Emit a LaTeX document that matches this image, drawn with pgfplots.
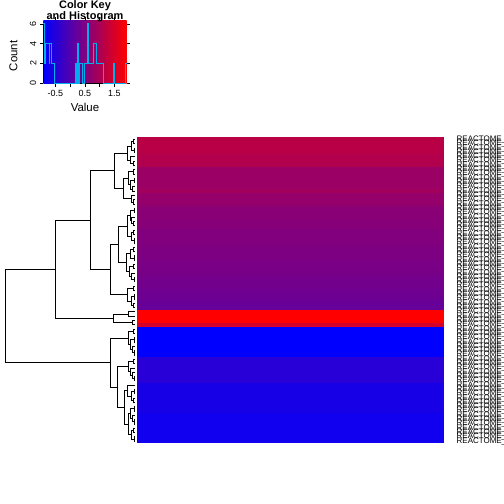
\documentclass[border=0pt]{standalone}
\usepackage{pgfplots}
\pgfplotsset{compat=1.18}
\usepackage{fontspec}
\setmainfont{Liberation Sans}
\begin{document}
\begin{tikzpicture}
\useasboundingbox (0,0) rectangle (504bp,504bp);
% ---------------- colour key with histogram
\begin{axis}[
  at={(43.3bp,420.7bp)}, anchor=south west, scale only axis,
  width=83.4bp, height=62.6bp,
  xmin=-0.91, xmax=1.92, ymin=0, ymax=6.3158,
  axis line style={draw=none},
  xtick={-0.5,0,0.5,1,1.5}, xticklabels={-0.5,,0.5,,1.5},
  ytick={0,2,4,6}, yticklabels={0,2,4,6},
  tick align=outside, major tick length=3.5bp,
  tick style={black, line width=0.6bp},
  xticklabel style={font=\fontsize{9}{9}\selectfont},
  yticklabel style={font=\fontsize{9}{9}\selectfont, rotate=90, anchor=south},
  xlabel={Value}, ylabel={Count},
  xlabel style={font=\fontsize{11.5}{11.5}\selectfont, at={(axis description cs:0.5,-0.379)}, anchor=center},
  ylabel style={font=\fontsize{11.5}{11.5}\selectfont, at={(axis description cs:-0.357,0.44)}, anchor=center, rotate=0},
  clip=false,
]
\shade[left color=blue, right color=red] (rel axis cs:0,0) rectangle (rel axis cs:1,1);
\draw[black, line width=0.6bp] (axis cs:-0.5,0) -- (axis cs:1.5,0);
\draw[black, line width=0.6bp] (axis cs:-0.91,0) -- (axis cs:-0.91,6);
\addplot[cyan, const plot, line width=0.75bp] coordinates {
(-0.91,6) (-0.87,2) (-0.84,4) (-0.72,2) (-0.69,4) (-0.65,2) (-0.55,0)
(0.17,2) (0.21,0) (0.25,4) (0.29,0) (0.33,2) (0.40,0) (0.50,2) (0.58,6)
(0.62,2) (0.79,4) (0.90,2) (1.01,2) (1.13,0) (1.46,2) (1.50,0) (1.86,2) (1.92,2)};
\end{axis}
\node[anchor=base, font=\bfseries\fontsize{11}{11}\selectfont, inner sep=0pt] at (85bp,495bp) {Color Key};
\node[anchor=base, font=\bfseries\fontsize{11}{11}\selectfont, inner sep=0pt] at (85bp,484.7bp) {and Histogram};
% ---------------- row dendrogram
\begin{axis}[
  at={(0bp,60.7bp)}, anchor=south west, scale only axis,
  width=137bp, height=306bp,
  xmin=0, xmax=137, ymin=-0.5, ymax=70.5, y dir=reverse,
  hide axis, clip=false,
]
\addplot[black, line width=0.75bp, unbounded coords=jump] table {
x y
135 0
133 0
133 1
135 1
nan nan
135 2
134 2
134 3
135 3
nan nan
133 0.5
131 0.5
131 2.5
134 2.5
nan nan
135 5
133 5
133 6
135 6
nan nan
135 4
130 4
130 5.5
133 5.5
nan nan
131 1.5
127 1.5
127 4.75
130 4.75
nan nan
135 7
133 7
133 8
135 8
nan nan
135 9
134 9
134 10
135 10
nan nan
135 11
132 11
132 12
135 12
nan nan
134 9.5
130 9.5
130 11.5
132 11.5
nan nan
133 7.5
128 7.5
128 10.5
130 10.5
nan nan
135 14
133 14
133 15
135 15
nan nan
135 13
131 13
131 14.5
133 14.5
nan nan
128 9
123 9
123 13.75
131 13.75
nan nan
127 3.125
114 3.125
114 11.375
123 11.375
nan nan
135 16
134 16
134 17
135 17
nan nan
135 19
133 19
133 20
135 20
nan nan
135 18
131 18
131 19.5
133 19.5
nan nan
134 16.5
130 16.5
130 18.75
131 18.75
nan nan
135 21
133 21
133 22
135 22
nan nan
135 23
134 23
134 24
135 24
nan nan
133 21.5
131 21.5
131 23.5
134 23.5
nan nan
130 17.625
127 17.625
127 22.5
131 22.5
nan nan
135 25
133 25
133 26
135 26
nan nan
135 27
134 27
134 28
135 28
nan nan
133 25.5
130 25.5
130 27.5
134 27.5
nan nan
135 29
133 29
133 30
135 30
nan nan
135 32
134 32
134 33
135 33
nan nan
135 31
131 31
131 32.5
134 32.5
nan nan
133 29.5
129 29.5
129 31.75
131 31.75
nan nan
130 26.5
126 26.5
126 30.625
129 30.625
nan nan
127 20.0625
118 20.0625
118 28.5625
126 28.5625
nan nan
135 34
133 34
133 35
135 35
nan nan
135 36
134 36
134 37
135 37
nan nan
135 38
133 38
133 39
135 39
nan nan
134 36.5
131 36.5
131 38.5
133 38.5
nan nan
133 34.5
127 34.5
127 37.5
131 37.5
nan nan
118 24.3125
110 24.3125
110 36
127 36
nan nan
114 7.25
90 7.25
90 30.156
110 30.156
nan nan
135 40
128 40
128 41
135 41
nan nan
135 42
132 42
132 43
135 43
nan nan
128 40.5
113 40.5
113 42.5
132 42.5
nan nan
90 18.703
55 18.703
55 41.5
113 41.5
nan nan
135 44
133 44
133 45
135 45
nan nan
135 46
134 46
134 47
135 47
nan nan
135 49
134 49
134 50
135 50
nan nan
135 48
132 48
132 49.5
134 49.5
nan nan
134 46.5
130 46.5
130 48.75
132 48.75
nan nan
133 44.5
128 44.5
128 47.625
130 47.625
nan nan
135 51
133 51
133 52
135 52
nan nan
135 55
134 55
134 56
135 56
nan nan
135 54
132 54
132 55.5
134 55.5
nan nan
135 53
130 53
130 54.75
132 54.75
nan nan
133 51.5
128 51.5
128 53.875
130 53.875
nan nan
135 58
134 58
134 59
135 59
nan nan
135 60
133 60
133 61
135 61
nan nan
134 58.5
131 58.5
131 60.5
133 60.5
nan nan
135 57
127 57
127 59.5
131 59.5
nan nan
135 62
134 62
134 63
135 63
nan nan
135 65
134 65
134 66
135 66
nan nan
135 64
132 64
132 65.5
134 65.5
nan nan
134 62.5
130 62.5
130 64.75
132 64.75
nan nan
135 67
133 67
133 68
135 68
nan nan
135 69
134 69
134 70
135 70
nan nan
133 67.5
131 67.5
131 69.5
134 69.5
nan nan
130 63.625
128 63.625
128 68.5
131 68.5
nan nan
127 58.25
124 58.25
124 66.0625
128 66.0625
nan nan
128 52.6875
117 52.6875
117 62.156
124 62.156
nan nan
128 46.06
110 46.06
110 57.42
117 57.42
nan nan
55 30.10
5 30.10
5 51.74
110 51.74
};
\end{axis}
% ---------------- heat map (one value per row)
\begin{axis}[
  at={(137bp,60.7bp)}, anchor=south west, scale only axis,
  width=307bp, height=306bp,
  xmin=0, xmax=1, ymin=-0.5, ymax=70.5, y dir=reverse,
  axis line style={draw=none}, tick style={draw=none}, major tick length=0pt,
  xtick=\empty, ytick={0,...,70}, yticklabel pos=right,
  yticklabel={REACTOME\_PATHWAY},
  yticklabel style={font=\fontsize{8}{8}\selectfont, anchor=west, inner sep=0pt, xshift=12.5bp},
  colormap={br}{rgb255=(0,0,255) rgb255=(255,0,0)},
  point meta min=-0.91, point meta max=1.92,
  clip=true,
]
\addplot[scatter, only marks, mark=-, mark size=153.5bp,
  scatter/use mapped color={draw=mapped color, fill=mapped color},
  mark options={line width=4.5bp, line cap=butt},
  point meta=explicit] table[x=x, y=y, meta=v] {
x y v
0.5 0 1.14
0.5 1 1.13
0.5 2 1.13
0.5 3 1.12
0.5 4 1.05
0.5 5 1.05
0.5 6 1.04
0.5 7 0.80
0.5 8 0.80
0.5 9 0.79
0.5 10 0.80
0.5 11 0.80
0.5 12 0.87
0.5 13 0.73
0.5 14 0.73
0.5 15 0.72
0.5 16 0.61
0.5 17 0.60
0.5 18 0.60
0.5 19 0.59
0.5 20 0.59
0.5 21 0.53
0.5 22 0.52
0.5 23 0.52
0.5 24 0.51
0.5 25 0.48
0.5 26 0.47
0.5 27 0.47
0.5 28 0.46
0.5 29 0.43
0.5 30 0.42
0.5 31 0.41
0.5 32 0.37
0.5 33 0.36
0.5 34 0.35
0.5 35 0.31
0.5 36 0.30
0.5 37 0.28
0.5 38 0.23
0.5 39 0.21
0.5 40 1.92
0.5 41 1.92
0.5 42 1.92
0.5 43 1.44
0.5 44 -0.91
0.5 45 -0.91
0.5 46 -0.91
0.5 47 -0.91
0.5 48 -0.91
0.5 49 -0.91
0.5 50 -0.91
0.5 51 -0.47
0.5 52 -0.47
0.5 53 -0.47
0.5 54 -0.47
0.5 55 -0.47
0.5 56 -0.47
0.5 57 -0.64
0.5 58 -0.64
0.5 59 -0.64
0.5 60 -0.64
0.5 61 -0.64
0.5 62 -0.64
0.5 63 -0.64
0.5 64 -0.73
0.5 65 -0.73
0.5 66 -0.73
0.5 67 -0.73
0.5 68 -0.73
0.5 69 -0.73
0.5 70 -0.73
};
\end{axis}
\end{tikzpicture}
\end{document}
